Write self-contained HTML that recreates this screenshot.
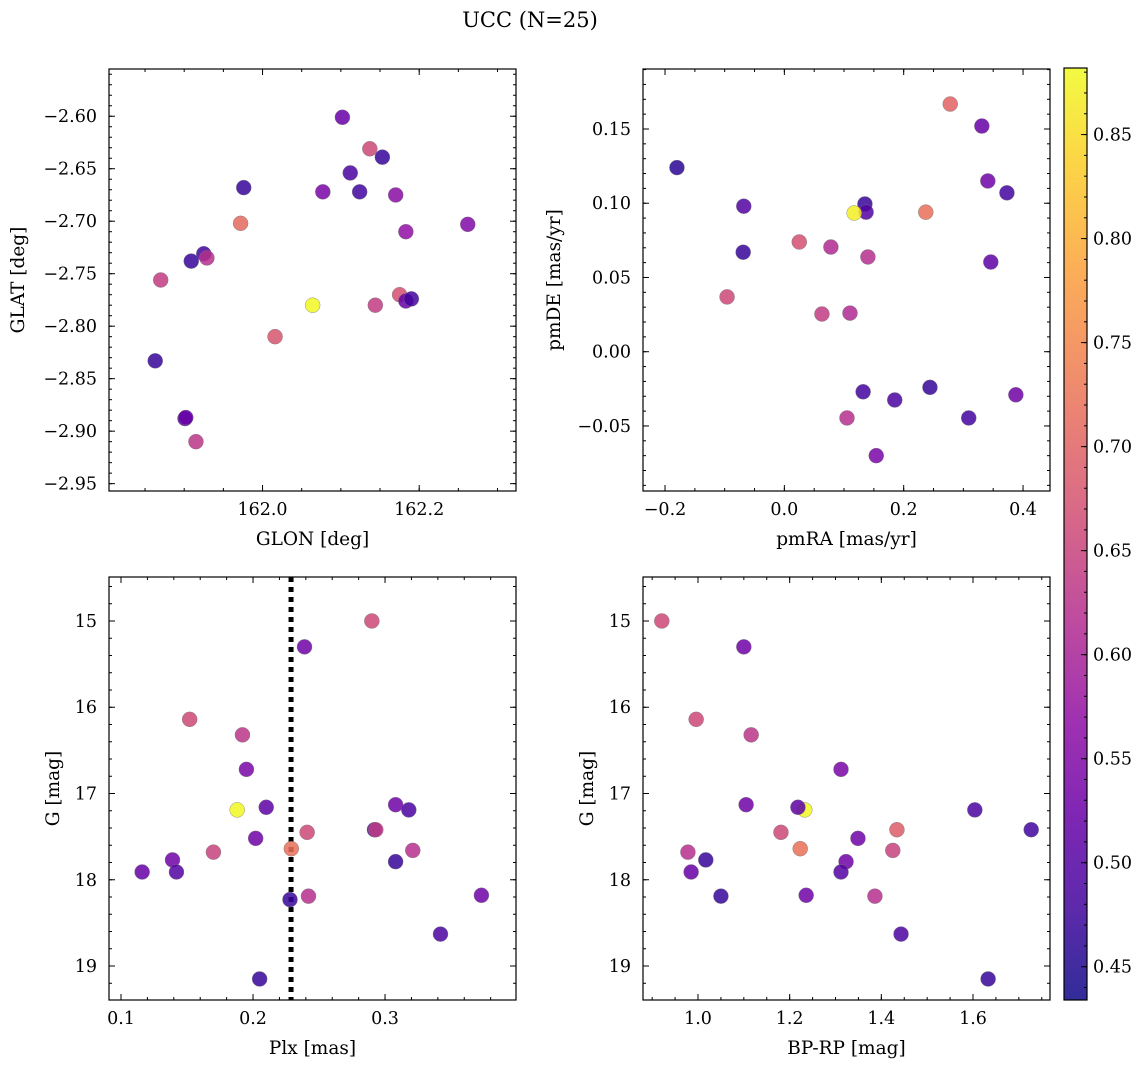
<!DOCTYPE html>
<html><head><meta charset="utf-8"><style>
body{margin:0;background:#fff;}
svg{display:block;font-family:"DejaVu Serif","Liberation Serif",serif;}
</style></head><body>
<svg id="fig" width="1148" height="1068">
<text x="530" y="27" font-size="21" text-anchor="middle">UCC (N=25)</text>
</svg>
<script>
// Panel 1: GLON vs GLAT
const p1x=[162.102,162.137,162.153,162.112,162.124,162.077,161.976,162.170,162.262,161.972,162.183,161.925,161.929,161.909,161.870,162.064,162.144,162.175,162.183,162.190,162.016,161.863,161.901,161.902,161.915];
const p1y=[-2.601,-2.631,-2.639,-2.654,-2.672,-2.672,-2.668,-2.675,-2.703,-2.702,-2.710,-2.731,-2.735,-2.738,-2.756,-2.780,-2.780,-2.770,-2.776,-2.774,-2.810,-2.833,-2.888,-2.887,-2.910];
const p1c=[0.52,0.66,0.47,0.49,0.48,0.54,0.47,0.56,0.55,0.71,0.57,0.48,0.62,0.47,0.64,0.88,0.64,0.67,0.52,0.48,0.68,0.47,0.50,0.52,0.63];
// Panel 2: pmRA vs pmDE
const p2x=[0.278,0.331,-0.180,0.341,0.373,-0.068,0.135,0.137,0.117,0.237,0.025,0.078,-0.069,0.140,0.346,-0.096,0.063,0.110,0.244,0.132,0.185,0.388,0.309,0.105,0.154];
const p2y=[0.1668,0.152,0.124,0.115,0.107,0.098,0.0995,0.094,0.0934,0.094,0.0739,0.0705,0.067,0.0638,0.0604,0.0369,0.0254,0.026,-0.024,-0.027,-0.0325,-0.029,-0.0446,-0.0446,-0.070];
const p2c=[0.70,0.52,0.46,0.53,0.48,0.50,0.47,0.50,0.87,0.72,0.67,0.61,0.47,0.62,0.51,0.66,0.64,0.61,0.47,0.48,0.49,0.53,0.48,0.62,0.54];
// Panel 3: Plx vs G
const p3x=[0.290,0.239,0.152,0.192,0.195,0.188,0.210,0.308,0.318,0.241,0.292,0.293,0.202,0.229,0.321,0.170,0.139,0.308,0.116,0.142,0.242,0.228,0.373,0.342,0.205];
const p3y=[15.00,15.30,16.14,16.32,16.72,17.19,17.16,17.13,17.19,17.45,17.42,17.42,17.52,17.64,17.66,17.68,17.77,17.79,17.91,17.91,18.19,18.23,18.18,18.63,19.15];
const p3c=[0.66,0.53,0.66,0.63,0.54,0.88,0.51,0.53,0.49,0.66,0.48,0.64,0.53,0.72,0.62,0.65,0.53,0.47,0.52,0.50,0.62,0.47,0.53,0.49,0.47];
const plxLine=0.2288;
// Panel 4: BP-RP vs G
const p4x=[0.921,1.100,0.996,1.116,1.312,1.233,1.218,1.105,1.604,1.181,1.434,1.727,1.349,1.223,1.425,0.978,1.017,1.323,0.985,1.312,1.050,1.236,1.386,1.443,1.633];
const p4y=[15.00,15.30,16.14,16.32,16.72,17.19,17.16,17.13,17.19,17.45,17.42,17.42,17.52,17.64,17.66,17.68,17.77,17.79,17.91,17.91,18.19,18.18,18.19,18.63,19.15];
const p4c=[0.66,0.53,0.66,0.63,0.54,0.88,0.51,0.53,0.49,0.66,0.69,0.48,0.53,0.72,0.65,0.62,0.47,0.53,0.52,0.50,0.47,0.53,0.62,0.49,0.47];
const cbTicks=[0.45,0.50,0.55,0.60,0.65,0.70,0.75,0.80,0.85];

const NS="http://www.w3.org/2000/svg";
const svg=document.getElementById('fig');
function mk(tag,attrs,parent){const e=document.createElementNS(NS,tag);for(const k in attrs)e.setAttribute(k,attrs[k]);(parent||svg).appendChild(e);return e;}
const stops=[[13,8,135],[65,4,157],[106,0,168],[143,13,164],[177,42,144],[204,71,120],[225,100,98],[242,132,75],[252,166,54],[252,206,37],[240,249,33]];
const VMIN=0.434,VMAX=0.882;
const TF=17.5, LF=18.5;
function plasma(v){let t=(v-VMIN)/(VMAX-VMIN);t=Math.max(0,Math.min(1,t))*10;const i=Math.min(9,Math.floor(t)),f=t-i;const a=stops[i],b=stops[i+1];return `rgb(${[0,1,2].map(k=>Math.round(a[k]+(b[k]-a[k])*f)).join(',')})`;}

function panel(o){
  const {L,T,R,B,xmin,xmax,ymin,ymax,yinv,xmaj,xmin_,ymaj,ymin_,xfmt,yfmt,xlabel,ylabel,name,xs,ys,cs}=o;
  const g=mk('g',{});
  
  
  const sx=v=>L+(v-xmin)/(xmax-xmin)*(R-L);
  const sy=v=>yinv? T+(v-ymin)/(ymax-ymin)*(B-T) : B-(v-ymin)/(ymax-ymin)*(B-T);
  const range=(a,b,s)=>{const r=[];const n0=Math.ceil(a/s-1e-6),n1=Math.floor(b/s+1e-6);for(let n=n0;n<=n1;n++)r.push(+(n*s).toFixed(6));return r;};
  range(xmin,xmax,xmin_).forEach(v=>{const x=sx(v);mk('line',{x1:x,x2:x,y1:B,y2:B-3,stroke:'#000','stroke-width':1},g);mk('line',{x1:x,x2:x,y1:T,y2:T+3,stroke:'#000','stroke-width':1},g);});
  range(Math.min(ymin,ymax),Math.max(ymin,ymax),ymin_).forEach(v=>{const y=sy(v);mk('line',{x1:L,x2:L+3,y1:y,y2:y,stroke:'#000','stroke-width':1},g);mk('line',{x1:R,x2:R-3,y1:y,y2:y,stroke:'#000','stroke-width':1},g);});
  range(xmin,xmax,xmaj).forEach(v=>{const x=sx(v);mk('line',{x1:x,x2:x,y1:B,y2:B-6,stroke:'#000','stroke-width':1},g);mk('line',{x1:x,x2:x,y1:T,y2:T+6,stroke:'#000','stroke-width':1},g);
    const t=mk('text',{x:x,y:B+24,'font-size':TF,'text-anchor':'middle'},g);t.textContent=xfmt(v);
    
    });
  range(Math.min(ymin,ymax),Math.max(ymin,ymax),ymaj).forEach(v=>{const y=sy(v);mk('line',{x1:L,x2:L+6,y1:y,y2:y,stroke:'#000','stroke-width':1},g);mk('line',{x1:R,x2:R-6,y1:y,y2:y,stroke:'#000','stroke-width':1},g);
    const t=mk('text',{x:L-12,y:y+6,'font-size':TF,'text-anchor':'end'},g);t.textContent=yfmt(v);
    
    });
  if(o.vline!==undefined){const x=sx(o.vline);const ln=mk('line',{x1:x,x2:x,y1:T,y2:B,stroke:'#000','stroke-width':5,'stroke-dasharray':'5 5'},g);
    
    }
  xs.forEach((v,i)=>{const c=mk('circle',{cx:sx(v),cy:sy(ys[i]),r:7.5,fill:plasma(cs[i]),'fill-opacity':0.85,stroke:'#777','stroke-width':0.4},g);
    
    });
  mk('rect',{x:L,y:T,width:R-L,height:B-T,fill:'none',stroke:'#000','stroke-width':1.2},g);
  const xl=mk('text',{x:(L+R)/2,y:B+54,'font-size':LF,'text-anchor':'middle'},g);xl.textContent=xlabel;
  
  
  const ylx=o.ylx, yc=(T+B)/2;
  const yl=mk('text',{x:ylx,y:yc,'font-size':LF,'text-anchor':'middle',transform:`rotate(-90 ${ylx} ${yc})`},g);yl.textContent=ylabel;
  
  
}
const f1=v=>v.toFixed(1), f0=v=>v.toFixed(0);
const fm=d=>v=>(v<0?'\u2212':'')+Math.abs(v).toFixed(d);
panel({L:109,T:69,R:516,B:491,xmin:161.804,xmax:162.3236,ymin:-2.957,ymax:-2.555,yinv:false,xmaj:0.2,xmin_:0.05,ymaj:0.05,ymin_:0.01,xfmt:f1,yfmt:fm(2),xlabel:'GLON [deg]',ylabel:'GLAT [deg]',ylx:24,name:'glon-glat-panel',xs:p1x,ys:p1y,cs:p1c});
panel({L:643,T:69,R:1050,B:491,xmin:-0.2369,xmax:0.4452,ymin:-0.0938,ymax:0.1904,yinv:false,xmaj:0.2,xmin_:0.05,ymaj:0.05,ymin_:0.01,xfmt:fm(1),yfmt:fm(2),xlabel:'pmRA [mas/yr]',ylabel:'pmDE [mas/yr]',ylx:560,name:'pm-panel',xs:p2x,ys:p2y,cs:p2c});
panel({L:109,T:577,R:516,B:1000,xmin:0.0909,xmax:0.3992,ymin:14.49,ymax:19.394,yinv:true,xmaj:0.1,xmin_:0.02,ymaj:1,ymin_:0.2,xfmt:f1,yfmt:f0,xlabel:'Plx [mas]',ylabel:'G [mag]',ylx:59,name:'plx-g-panel',xs:p3x,ys:p3y,cs:p3c,vline:plxLine});
panel({L:643,T:577,R:1050,B:1000,xmin:0.88,xmax:1.768,ymin:14.49,ymax:19.394,yinv:true,xmaj:0.2,xmin_:0.05,ymaj:1,ymin_:0.2,xfmt:f1,yfmt:f0,xlabel:'BP-RP [mag]',ylabel:'G [mag]',ylx:593,name:'cmd-panel',xs:p4x,ys:p4y,cs:p4c});

// colorbar
const cb=mk('g',{});


const CL=1064,CR=1087,CT=68,CB=1000;
const cy=v=>CB-(v-VMIN)/(VMAX-VMIN)*(CB-CT);
const defs=mk('defs',{},cb);const gr=mk('linearGradient',{id:'pl',x1:0,y1:1,x2:0,y2:0},defs);
for(let i=0;i<=20;i++){const v=VMIN+(VMAX-VMIN)*i/20;mk('stop',{offset:(i/20),'stop-color':plasma(v)},gr);}
mk('rect',{x:CL,y:CT,width:CR-CL,height:CB-CT,fill:'url(#pl)','fill-opacity':0.85},cb);
for(let n=44;n<=88;n++){const y=cy(n/100);mk('line',{x1:CR,x2:CR-3,y1:y,y2:y,stroke:'#000'},cb);}
cbTicks.forEach(v=>{const y=cy(v);mk('line',{x1:CR,x2:CR-6,y1:y,y2:y,stroke:'#000'},cb);
  const t=mk('text',{x:CR+6,y:y+6,'font-size':TF},cb);t.textContent=v.toFixed(2);
  
  });
mk('rect',{x:CL,y:CT,width:CR-CL,height:CB-CT,fill:'none',stroke:'#000','stroke-width':1.2},cb);
</script>
</body></html>
